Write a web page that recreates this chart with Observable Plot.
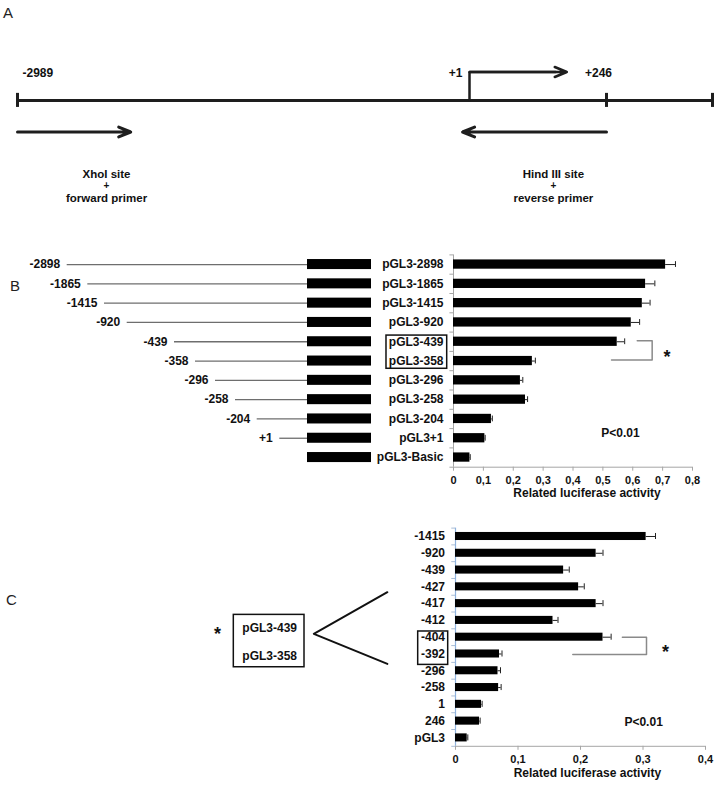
<!DOCTYPE html>
<html>
<head>
<meta charset="utf-8">
<script src="https://cdn.jsdelivr.net/npm/d3@7"></script>
<script src="https://cdn.jsdelivr.net/npm/@observablehq/plot@0.6"></script>
<style>
  body { margin: 0; background: #fff; }
  #fig { position: relative; width: 721px; height: 789px; background: #fff; overflow: hidden;
         font-family: "Liberation Sans", Arial, sans-serif; color: #111; }
  #fig .layer { position: absolute; left: 0; }
  #fig .letter { position: absolute; font-size: 15px; line-height: 15px; color: #222; }
</style>
</head>
<body>
<div id="fig">
  <div class="layer" id="panelA" style="top:0px"></div>
  <div class="layer" id="panelBL" style="top:245px"></div>
  <div class="layer" id="panelB" style="top:245px"></div>
  <div class="layer" id="panelC" style="top:515px"></div>
  <div class="letter" style="left:3px;top:5px">A</div>
  <div class="letter" style="left:10px;top:278px">B</div>
  <div class="letter" style="left:6px;top:592px">C</div>
</div>
<script>
// ---------------- data ----------------
// Panel A: promoter map (bp positions)
const mapStart = -2989;
const mapTSS = 1;
const mapEnd = 246;
const mapVectorEnd = 1000;
const forwardPrimer = [-2989, -2240];
const reversePrimer = [246, -45];
const tssArrowEnd = 175;
const forwardNote = ["XhoI site", "+", "forward primer"];
const reverseNote = ["Hind III site", "+", "reverse primer"];

// Panel B: deletion constructs
const bLabels = ["pGL3-2898", "pGL3-1865", "pGL3-1415", "pGL3-920", "pGL3-439", "pGL3-358",
                 "pGL3-296", "pGL3-258", "pGL3-204", "pGL3+1", "pGL3-Basic"];
const bValues = [0.710, 0.643, 0.632, 0.595, 0.548, 0.264, 0.224, 0.241, 0.127, 0.105, 0.055];
const bErrors = [0.033, 0.031, 0.026, 0.028, 0.025, 0.010, 0.008, 0.007, 0.003, 0.001, 0.001];
const bStarts = [-2898, -1865, -1415, -920, -439, -358, -296, -258, -204, 1, null];
const bStartLabels = ["-2898", "-1865", "-1415", "-920", "-439", "-358", "-296", "-258", "-204", "+1", ""];
const bTicks = [0, 0.1, 0.2, 0.3, 0.4, 0.5, 0.6, 0.7, 0.8];

// Panel C: fine deletions
const cLabels = ["-1415", "-920", "-439", "-427", "-417", "-412", "-404", "-392", "-296", "-258", "1", "246", "pGL3"];
const cValues = [0.305, 0.225, 0.173, 0.197, 0.225, 0.156, 0.236, 0.0704, 0.068, 0.069, 0.0416, 0.0384, 0.0187];
const cErrors = [0.015, 0.011, 0.009, 0.009, 0.011, 0.008, 0.013, 0.004, 0.004, 0.004, 0.001, 0.001, 0.001];
const cTicks = [0, 0.1, 0.2, 0.3, 0.4];

const pText = "P<0.01";
const axisTitle = "Related luciferase activity";

// ---------------- helpers ----------------
const FONT = '"Liberation Sans", Arial, sans-serif';
const baseStyle = {background: "transparent", fontFamily: FONT, fontSize: "12px", fontWeight: "bold", color: "#111", overflow: "visible"};
const commaFmt = d => d === 0 ? "0" : d.toFixed(1).replace(".", ",");

// ---------------- Panel A ----------------
const A = Plot.plot({
  width: 721, height: 215, margin: 0,
  style: baseStyle,
  x: {type: "linear", domain: [mapStart, mapTSS, mapEnd, mapVectorEnd], range: [17, 469, 606, 712], axis: null},
  y: {type: "linear", domain: [-1, 0, 1, 2, 3, 4], range: [71.5, 100, 131.5, 173.5, 185, 197.5], axis: null},
  marks: [
    Plot.ruleY([0], {x1: mapStart, x2: mapVectorEnd, stroke: "#1e1e1e", strokeWidth: 3}),
    Plot.ruleX([mapStart, mapEnd, mapVectorEnd], {x: d => d, y1: -0.25, y2: 0.22, stroke: "#1e1e1e", strokeWidth: 3}),
    Plot.line([{x: mapTSS, y: 0}, {x: mapTSS, y: -1}, {x: tssArrowEnd - 20, y: -1}],
      {x: "x", y: "y", stroke: "#1e1e1e", strokeWidth: 2.5, strokeLinejoin: "miter"}),
    Plot.arrow([0], {x1: mapTSS, x2: tssArrowEnd, y1: -1, y2: -1, stroke: "#1e1e1e",
      strokeWidth: 2.5, headAngle: 45, headLength: 7.8}),
    Plot.arrow([forwardPrimer], {x1: d => d[0], x2: d => d[1], y1: 1, y2: 1, stroke: "#1e1e1e",
      strokeWidth: 3, headAngle: 45, headLength: 6.5}),
    Plot.arrow([reversePrimer], {x1: d => d[0], x2: d => d[1], y1: 1, y2: 1, stroke: "#1e1e1e",
      strokeWidth: 3, headAngle: 45, headLength: 6.5}),
    Plot.text(["-2989"], {x: mapStart, y: -1, dx: 5, dy: 1.5, textAnchor: "start", fill: "#111"}),
    Plot.text(["+1"], {x: mapTSS, y: -1, dx: -7, dy: 1.5, textAnchor: "end", fill: "#111"}),
    Plot.text(["+246"], {x: mapEnd, y: -1, dx: -8, dy: 1.5, textAnchor: "middle", fill: "#111"}),
    Plot.text(forwardNote, {x: -2400, y: (d, i) => 2 + i, fontSize: (d, i) => i === 1 ? 10 : 11.5, fill: "#111"}),
    Plot.text(reverseNote, {x: 151, y: (d, i) => 2 + i, fontSize: (d, i) => i === 1 ? 10 : 11.5, fill: "#111"})
  ]
});
document.getElementById("panelA").appendChild(A);

// ---------------- Panel B: left schematic ----------------
const bRows = bLabels.map((label, i) => ({label, i, value: bValues[i], err: bErrors[i],
  start: bStarts[i], startLabel: bStartLabels[i]}));
const bConstructs = bRows.filter(d => d.start !== null);

const BL = Plot.plot({
  width: 400, height: 265, marginTop: 9.4, marginBottom: 43.3, marginLeft: 0, marginRight: 0,
  style: baseStyle,
  x: {type: "linear",
      domain: [-2898, -1865, -1415, -920, -439, -358, -296, -258, -204, 1, 246, 1899],
      range: [66.7, 87.3, 104, 126.7, 174, 195, 215, 235, 256.7, 279.3, 307, 371], axis: null},
  y: {domain: [-0.5, 10.5], reverse: true, axis: null},
  marks: [
    Plot.ruleY(bConstructs, {y: "i", x1: "start", x2: 246, stroke: "#6e6e6e", strokeWidth: 1.3}),
    Plot.rectX(bRows, {x1: 246, x2: 1899, y1: d => d.i - 0.26, y2: d => d.i + 0.26, fill: "#000"}),
    Plot.text(bConstructs, {x: "start", y: "i", text: "startLabel", textAnchor: "end", dx: -7, fill: "#111"})
  ]
});
document.getElementById("panelBL").appendChild(BL);

// ---------------- Panel B: bar chart ----------------
const B = Plot.plot({
  width: 721, height: 265, marginTop: 9.4, marginBottom: 43.3, marginLeft: 453, marginRight: 29,
  style: baseStyle,
  x: {domain: [0, 0.8], axis: null},
  y: {domain: [-0.5, 10.5], reverse: true, axis: null},
  marks: [
    Plot.ruleY(d3.range(-0.5, 11, 1), {x1: 0, x2: -0.012, stroke: "#a6a6a6"}),
    Plot.ruleY([10.5], {x1: 0, x2: 0.8, stroke: "#a6a6a6"}),
    Plot.axisX({ticks: bTicks, tickFormat: commaFmt, tickSize: 4, tickPadding: 5, stroke: "#a6a6a6", fill: "#111", fontSize: 11}),
    Plot.axisY({ticks: d3.range(bLabels.length), tickFormat: i => bLabels[i], tickSize: 0, tickPadding: 10, fill: "#111"}),
    Plot.ruleX([0], {stroke: "#a6a6a6"}),
    Plot.rectX(bRows, {x1: 0, x2: "value", y1: d => d.i - 0.24, y2: d => d.i + 0.24, fill: "#000"}),
    Plot.ruleY(bRows, {y: "i", x1: "value", x2: d => d.value + d.err, stroke: "#222", strokeWidth: 1}),
    Plot.ruleX(bRows, {x: d => d.value + d.err, y1: d => d.i - 0.15, y2: d => d.i + 0.15, stroke: "#222", strokeWidth: 1}),
    // boxed pair of labels
    Plot.rect([0], {x1: -0.2243, x2: -0.0211, y1: 3.68, y2: 5.40, fill: "none", stroke: "#111", strokeWidth: 1.5}),
    // significance bracket
    Plot.line([{x: 0.615, y: 3.95}, {x: 0.665, y: 3.95}, {x: 0.665, y: 4.95}, {x: 0.529, y: 4.95}],
      {x: "x", y: "y", stroke: "#8a8a8a", strokeWidth: 1.5}),
    Plot.text(["*"], {x: 0.715, y: 4.55, fontSize: 18, dy: 5, fill: "#111"}),
    Plot.text([pText], {x: 0.559, y: 8.75, fill: "#111"}),
    Plot.text([axisTitle], {x: 0.447, frameAnchor: "bottom", dy: 30, fill: "#111"})
  ]
});
document.getElementById("panelB").appendChild(B);

// ---------------- Panel C ----------------
const cRows = cLabels.map((label, i) => ({label, i, value: cValues[i], err: cErrors[i]}));
const C = Plot.plot({
  width: 721, height: 274, marginTop: 12.6, marginBottom: 43.2, marginLeft: 455, marginRight: 16,
  style: baseStyle,
  x: {domain: [0, 0.4], axis: null},
  y: {domain: [-0.5, 12.5], reverse: true, axis: null},
  marks: [
    Plot.ruleY(d3.range(-0.5, 13, 1), {x1: 0, x2: -0.006, stroke: "#a9bdd6"}),
    Plot.ruleY([12.5], {x1: 0, x2: 0.4, stroke: "#a6a6a6"}),
    Plot.axisX({ticks: cTicks, tickFormat: commaFmt, tickSize: 4, tickPadding: 5, stroke: "#a6a6a6", fill: "#111", fontSize: 11}),
    Plot.axisY({ticks: d3.range(cLabels.length), tickFormat: i => cLabels[i], tickSize: 0, tickPadding: 10.5, fill: "#111"}),
    Plot.ruleX([0], {stroke: "#8fb2de", strokeWidth: 1.2}),
    Plot.rectX(cRows, {x1: 0, x2: "value", y1: d => d.i - 0.24, y2: d => d.i + 0.24, fill: "#000"}),
    Plot.ruleY(cRows, {y: "i", x1: "value", x2: d => d.value + d.err, stroke: "#222", strokeWidth: 1}),
    Plot.ruleX(cRows, {x: d => d.value + d.err, y1: d => d.i - 0.18, y2: d => d.i + 0.18, stroke: "#222", strokeWidth: 1}),
    // boxed pair of labels
    Plot.rect([0], {x1: -0.0597, x2: -0.0117, y1: 5.66, y2: 7.65, fill: "none", stroke: "#111", strokeWidth: 1.5}),
    // significance bracket
    Plot.line([{x: 0.267, y: 6}, {x: 0.3056, y: 6}, {x: 0.3056, y: 7.03}, {x: 0.1877, y: 7.03}],
      {x: "x", y: "y", stroke: "#8a8a8a", strokeWidth: 1.5}),
    Plot.text(["*"], {x: 0.336, y: 6.6, fontSize: 18, dy: 5, fill: "#111"}),
    Plot.text([pText], {x: 0.301, y: 11.07, fill: "#111"}),
    Plot.text([axisTitle], {x: 0.211, frameAnchor: "bottom", dy: 31, fill: "#111"}),
    // expansion of pGL3-439 / pGL3-358
    Plot.rect([0], {x1: -0.3547, x2: -0.2416, y1: 4.67, y2: 7.79, fill: "none", stroke: "#111", strokeWidth: 1.5}),
    Plot.text(["pGL3-439"], {x: -0.2973, y: 5.46, fill: "#111"}),
    Plot.text(["pGL3-358"], {x: -0.2973, y: 7.15, fill: "#111"}),
    Plot.text(["*"], {x: -0.381, y: 5.5, fontSize: 18, dy: 5, fill: "#111"}),
    Plot.line([{x: -0.109, y: 3.32}, {x: -0.2267, y: 5.8}, {x: -0.109, y: 7.59}],
      {x: "x", y: "y", stroke: "#111", strokeWidth: 2})
  ]
});
document.getElementById("panelC").appendChild(C);
</script>
</body>
</html>
